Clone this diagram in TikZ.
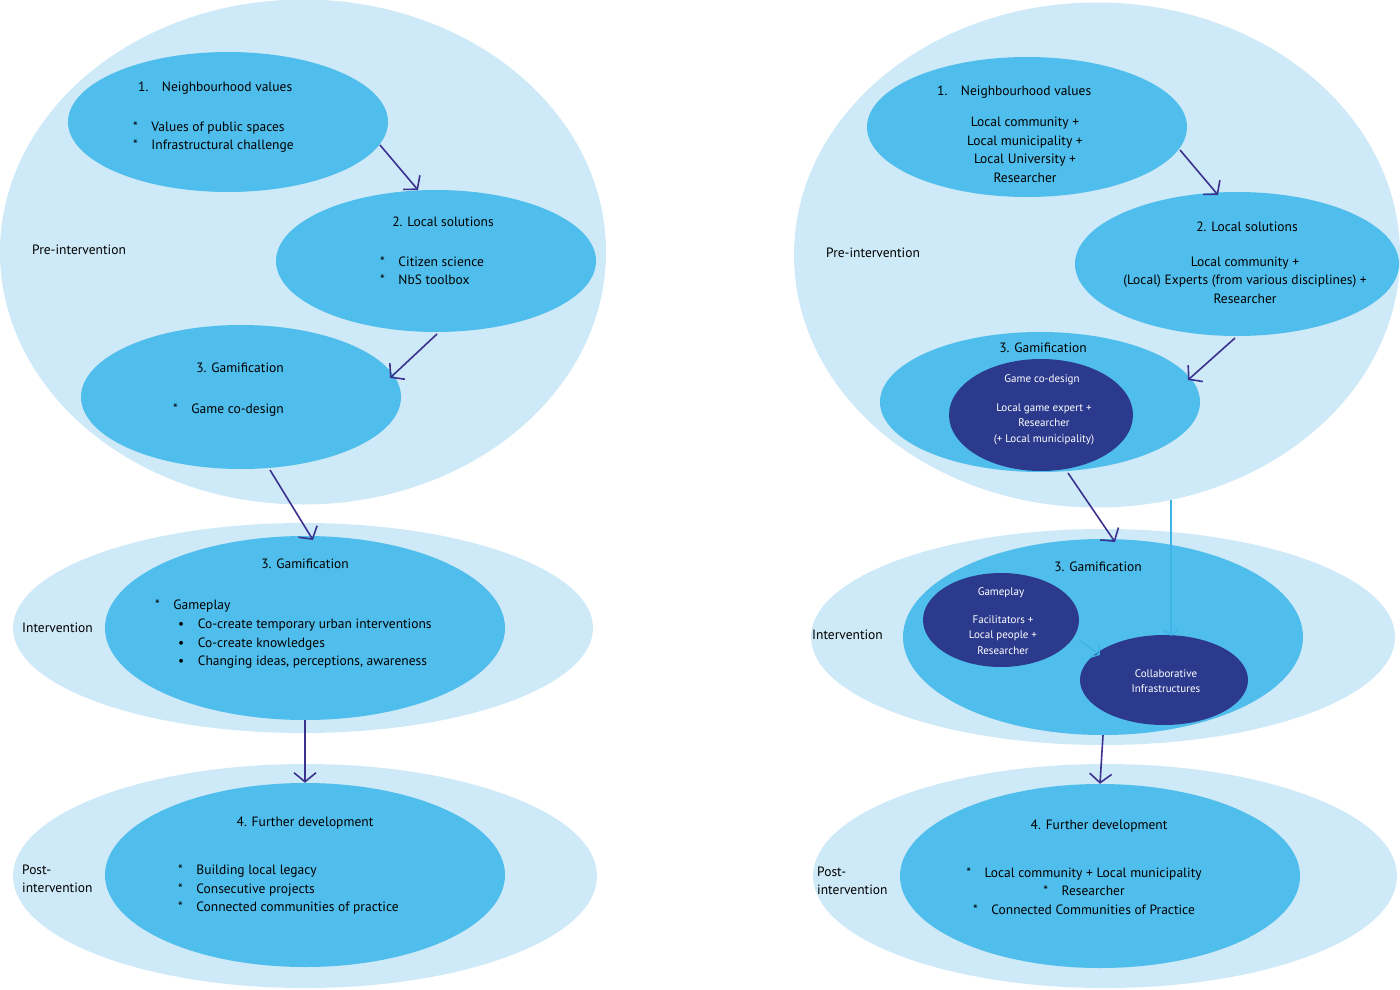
\documentclass[tikz,border=0pt]{standalone}
\usepackage{fontspec}
\setmainfont{PT Sans}
\usetikzlibrary{shapes.geometric,arrows.meta}
\definecolor{pale}{RGB}{206,233,247}
\definecolor{mid}{RGB}{80,190,236}
\definecolor{deep}{RGB}{44,58,142}
\definecolor{arr}{RGB}{58,50,142}
\definecolor{thin}{RGB}{60,180,232}
\tikzset{
  blob/.style={ellipse,draw=none,inner sep=0pt},
  big/.style={blob,fill=pale},
  inner/.style={blob,fill=mid},
  dark/.style={blob,fill=deep},
  txt/.style={inner sep=0pt,font=\fontsize{13.5}{18.5}\selectfont},
  wtxt/.style={txt,text=white,font=\fontsize{11}{15.5}\selectfont},
  phase/.style={draw=arr,line width=1.6pt,-{Straight Barb[length=9pt,width=22pt,line width=1.6pt]}},
  link/.style={draw=thin,line width=1.4pt,-{Straight Barb[length=6pt,width=16pt,line width=1.4pt]}}
}
\begin{document}
\begin{tikzpicture}[x=1pt,y=-1pt]
\useasboundingbox (0,0) rectangle (1400,990);
% left column
\node[big,minimum width=606,minimum height=505] (lpre) at (303,252) {};
\node[inner,minimum width=320,minimum height=140] (l1) at (228,122) {};
\node[inner,minimum width=320,minimum height=142] (l2) at (436,261) {};
\node[inner,minimum width=320,minimum height=144] (l3) at (241,397) {};
\node[big,minimum width=580,minimum height=210] (lint) at (303,628) {};
\node[inner,minimum width=400,minimum height=184] (lgame) at (305,628) {};
\node[big,minimum width=584,minimum height=224] (lpost) at (305,876) {};
\node[inner,minimum width=400,minimum height=184] (lfur) at (305,875) {};
\node[txt,anchor=west] (l1t) at (138,88) {1.\quad Neighbourhood values};
\node[txt,anchor=west,align=left] (l1b) at (133,137) {*\quad Values of public spaces\\*\quad Infrastructural challenge};
\node[txt] (l2t) at (443,222) {2. Local solutions};
\node[txt,anchor=west,align=left] (l2b) at (380,271) {*\quad Citizen science\\*\quad NbS toolbox};
\node[txt] (l3t) at (240,368) {3. Gamification};
\node[txt,anchor=west] (l3b) at (173,410) {*\quad Game co-design};
\node[txt,anchor=west] (lprel) at (32,250) {Pre-intervention};
\node[txt] (lgt) at (305,564) {3. Gamification};
\node[txt,anchor=west] (lgp) at (155,606) {*\quad Gameplay};
\node[txt,anchor=west,align=left] (lgb) at (178,644) {•\quad Co-create temporary urban interventions\\•\quad Co-create knowledges\\•\quad Changing ideas, perceptions, awareness};
\node[txt,anchor=west] (lintl) at (22,628) {Intervention};
\node[txt] (lft) at (305,823) {4. Further development};
\node[txt,anchor=west,align=left] (lfb) at (178,890) {*\quad Building local legacy\\*\quad Consecutive projects\\*\quad Connected communities of practice};
\node[txt,anchor=west,align=left] (lpostl) at (22,879) {Post-\\intervention};
\coordinate (la1) at (380,145);
\coordinate (la2) at (418,190);
\coordinate (lb1) at (437,334);
\coordinate (lb2) at (390,378);
\coordinate (lc1) at (270,470);
\coordinate (lc2) at (313,540);
\draw[phase] (la1) -- (la2);
\draw[phase] (lb1) -- (lb2);
\draw[phase] (lc1) -- (lc2);
\draw[phase] (lgame.south) -- (lfur.north);
% right column
\node[big,minimum width=606,minimum height=505] (rpre) at (1097,255) {};
\node[inner,minimum width=320,minimum height=140] (r1) at (1027,127) {};
\node[inner,minimum width=324,minimum height=144] (r2) at (1237,264) {};
\node[inner,minimum width=320,minimum height=140] (r3) at (1040,402) {};
\node[dark,minimum width=184,minimum height=112] (rcod) at (1041,415) {};
\node[big,minimum width=584,minimum height=216] (rint) at (1103,637) {};
\node[inner,minimum width=400,minimum height=196] (rgame) at (1103,637) {};
\node[dark,minimum width=156,minimum height=94] (rplay) at (1001,620) {};
\node[dark,minimum width=168,minimum height=90] (rcol) at (1164,680) {};
\node[big,minimum width=584,minimum height=224] (rpost) at (1105,876) {};
\node[inner,minimum width=400,minimum height=184] (rfur) at (1100,876) {};
\node[txt,anchor=west] (r1t) at (937,92) {1.\quad Neighbourhood values};
\node[txt,align=center] (r1b) at (1025,150) {Local community +\\Local municipality +\\Local University +\\Researcher};
\node[txt] (r2t) at (1247,227) {2. Local solutions};
\node[txt,align=center] (r2b) at (1245,280) {Local community +\\(Local) Experts (from various disciplines) +\\Researcher};
\node[txt,anchor=west] (rprel) at (826,253) {Pre-intervention};
\node[txt] (r3t) at (1043,348) {3. Gamification};
\node[wtxt] (rcodt) at (1042,380) {Game co-design};
\node[wtxt,align=center] (rcodb) at (1044,424) {Local game expert +\\Researcher\\(+ Local municipality)};
\node[txt] (rgt) at (1098,567) {3. Gamification};
\node[txt,anchor=west] (rintl) at (812,635) {Intervention};
\node[wtxt] (rplayt) at (1001,593) {Gameplay};
\node[wtxt,align=center] (rplayb) at (1003,635) {Facilitators +\\Local people +\\Researcher};
\node[wtxt,align=center] (rcolt) at (1166,681) {Collaborative\\Infrastructures};
\node[txt] (rft) at (1099,826) {4. Further development};
\node[txt,align=center] (rfb) at (1084,891) {*\quad Local community + Local municipality\\*\quad Researcher\\*\quad Connected Communities of Practice};
\node[txt,anchor=west,align=left] (rpostl) at (817,881) {Post-\\intervention};
\coordinate (ra1) at (1180,150);
\coordinate (ra2) at (1218,195);
\coordinate (rb1) at (1235,338);
\coordinate (rb2) at (1188,380);
\coordinate (rc1) at (1068,473);
\coordinate (rc2) at (1115,542);
\coordinate (rd1) at (1171,500);
\coordinate (rd2) at (1171,636);
\coordinate (re1) at (1079,640);
\coordinate (re2) at (1100,655);
\draw[phase] (ra1) -- (ra2);
\draw[phase] (rb1) -- (rb2);
\draw[phase] (rc1) -- (rc2);
\draw[link] (rd1) -- (rd2);
\draw[link] (re1) -- (re2);
\draw[phase] (rgame.south) -- (rfur.north);
\end{tikzpicture}
\end{document}
